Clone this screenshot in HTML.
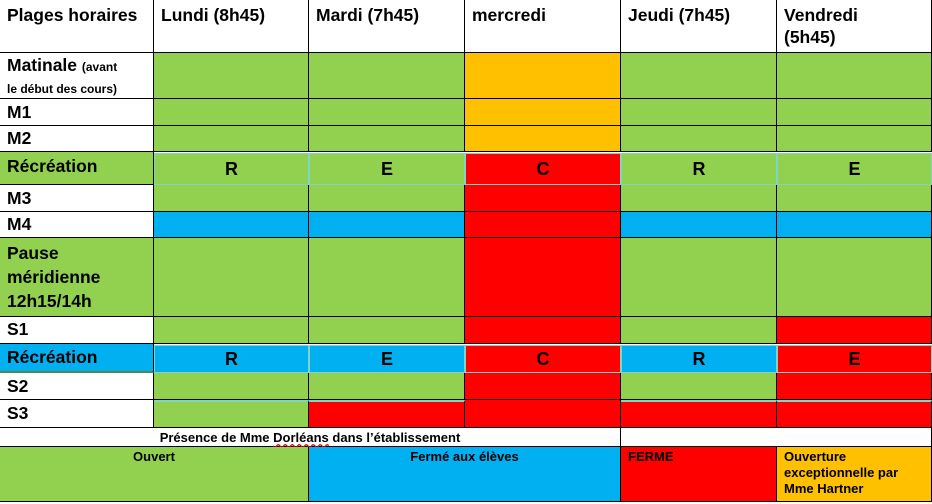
<!DOCTYPE html>
<html><head><meta charset="utf-8"><style>
body{margin:0;width:932px;height:504px;background:#fff;overflow:hidden;font-family:"Liberation Sans",sans-serif;}
.c{position:absolute;box-sizing:border-box;border-right:1px solid #000;border-bottom:1px solid #000;font-weight:bold;font-size:17.5px;color:#000;}
.h{padding:4px 0 0 7px;line-height:22px}
.f{padding:4px 0 0 7px;line-height:22px}
.m{display:flex;align-items:center;justify-content:center;font-size:18px;border:1px solid #7fd6c8;}
.G{background:#92D050}.B{background:#00B0F0}.R{background:#FF0000}.O{background:#FFC000}
.l{font-size:13px;text-align:center;padding-top:2px}
</style></head><body>
<!-- header -->
<div class="c h" style="left:0;top:0;width:154px;height:53px">Plages horaires</div>
<div class="c h" style="left:154px;top:0;width:155px;height:53px">Lundi (8h45)</div>
<div class="c h" style="left:309px;top:0;width:156px;height:53px">Mardi (7h45)</div>
<div class="c h" style="left:465px;top:0;width:156px;height:53px">mercredi</div>
<div class="c h" style="left:621px;top:0;width:156px;height:53px">Jeudi (7h45)</div>
<div class="c h" style="left:777px;top:0;width:155px;height:53px">Vendredi<br>(5h45)</div>
<!-- first column -->
<div class="c f" style="left:0;top:53px;width:154px;height:46px;padding-top:2px;line-height:20px">Matinale <span style="font-size:12px">(avant<br>le début des cours)</span></div>
<div class="c f" style="left:0;top:99px;width:154px;height:27px;padding-top:2px">M1</div>
<div class="c f" style="left:0;top:126px;width:154px;height:26px;padding-top:1px">M2</div>
<div class="c f G" style="left:0;top:152px;width:154px;height:33px;padding-top:3px">Récréation</div>
<div class="c f" style="left:0;top:185px;width:154px;height:27px;padding-top:2px">M3</div>
<div class="c f" style="left:0;top:212px;width:154px;height:26px;padding-top:1px">M4</div>
<div class="c f G" style="left:0;top:238px;width:154px;height:79px;padding-top:3px;line-height:24px">Pause<br>méridienne<br>12h15/14h</div>
<div class="c f" style="left:0;top:317px;width:154px;height:27px;padding-top:1px">S1</div>
<div class="c f B" style="left:0;top:344px;width:154px;height:29px;padding-top:2px;border-bottom:2px solid #4a8a50">Récréation</div>
<div class="c f" style="left:0;top:373px;width:154px;height:27px;padding-top:2px">S2</div>
<div class="c f" style="left:0;top:400px;width:154px;height:28px;padding-top:2px">S3</div>
<!-- Matinale -->
<div class="c G" style="left:154px;top:53px;width:155px;height:46px"></div>
<div class="c G" style="left:309px;top:53px;width:156px;height:46px"></div>
<div class="c O" style="left:465px;top:53px;width:156px;height:46px"></div>
<div class="c G" style="left:621px;top:53px;width:156px;height:46px"></div>
<div class="c G" style="left:777px;top:53px;width:155px;height:46px"></div>
<!-- M1 -->
<div class="c G" style="left:154px;top:99px;width:155px;height:27px"></div>
<div class="c G" style="left:309px;top:99px;width:156px;height:27px"></div>
<div class="c O" style="left:465px;top:99px;width:156px;height:27px"></div>
<div class="c G" style="left:621px;top:99px;width:156px;height:27px"></div>
<div class="c G" style="left:777px;top:99px;width:155px;height:27px"></div>
<!-- M2 -->
<div class="c G" style="left:154px;top:126px;width:155px;height:26px"></div>
<div class="c G" style="left:309px;top:126px;width:156px;height:26px"></div>
<div class="c O" style="left:465px;top:126px;width:156px;height:26px"></div>
<div class="c G" style="left:621px;top:126px;width:156px;height:26px"></div>
<div class="c G" style="left:777px;top:126px;width:155px;height:26px"></div>
<!-- Recreation 1 -->
<div class="c m G" style="left:154px;top:153px;width:155px;height:32px">R</div>
<div class="c m G" style="left:309px;top:153px;width:156px;height:32px">E</div>
<div class="c m R" style="left:465px;top:153px;width:156px;height:32px">C</div>
<div class="c m G" style="left:621px;top:153px;width:156px;height:32px">R</div>
<div class="c m G" style="left:777px;top:153px;width:155px;height:32px">E</div>
<!-- M3 -->
<div class="c G" style="left:154px;top:185px;width:155px;height:27px"></div>
<div class="c G" style="left:309px;top:185px;width:156px;height:27px"></div>
<div class="c R" style="left:465px;top:185px;width:156px;height:27px"></div>
<div class="c G" style="left:621px;top:185px;width:156px;height:27px"></div>
<div class="c G" style="left:777px;top:185px;width:155px;height:27px"></div>
<!-- M4 -->
<div class="c B" style="left:154px;top:212px;width:155px;height:26px"></div>
<div class="c B" style="left:309px;top:212px;width:156px;height:26px"></div>
<div class="c R" style="left:465px;top:212px;width:156px;height:26px"></div>
<div class="c B" style="left:621px;top:212px;width:156px;height:26px"></div>
<div class="c B" style="left:777px;top:212px;width:155px;height:26px"></div>
<!-- Pause -->
<div class="c G" style="left:154px;top:238px;width:155px;height:79px"></div>
<div class="c G" style="left:309px;top:238px;width:156px;height:79px"></div>
<div class="c R" style="left:465px;top:238px;width:156px;height:79px"></div>
<div class="c G" style="left:621px;top:238px;width:156px;height:79px"></div>
<div class="c G" style="left:777px;top:238px;width:155px;height:79px"></div>
<!-- S1 -->
<div class="c G" style="left:154px;top:317px;width:155px;height:27px"></div>
<div class="c G" style="left:309px;top:317px;width:156px;height:27px"></div>
<div class="c R" style="left:465px;top:317px;width:156px;height:27px"></div>
<div class="c G" style="left:621px;top:317px;width:156px;height:27px"></div>
<div class="c R" style="left:777px;top:317px;width:155px;height:27px"></div>
<!-- Recreation 2 -->
<div class="c m B" style="left:154px;top:345px;width:155px;height:28px">R</div>
<div class="c m B" style="left:309px;top:345px;width:156px;height:28px">E</div>
<div class="c m R" style="left:465px;top:345px;width:156px;height:28px">C</div>
<div class="c m B" style="left:621px;top:345px;width:156px;height:28px">R</div>
<div class="c m R" style="left:777px;top:345px;width:155px;height:28px">E</div>
<!-- S2 -->
<div class="c G" style="left:154px;top:373px;width:155px;height:27px"></div>
<div class="c G" style="left:309px;top:373px;width:156px;height:27px"></div>
<div class="c R" style="left:465px;top:373px;width:156px;height:27px"></div>
<div class="c G" style="left:621px;top:373px;width:156px;height:27px"></div>
<div class="c R" style="left:777px;top:373px;width:155px;height:27px"></div>
<!-- S3 -->
<div class="c G" style="left:154px;top:400px;width:155px;height:28px;border-top:2px solid #7fd6c8"></div>
<div class="c R" style="left:309px;top:400px;width:156px;height:28px;border-top:2px solid #7fd6c8"></div>
<div class="c R" style="left:465px;top:400px;width:156px;height:28px"></div>
<div class="c R" style="left:621px;top:400px;width:156px;height:28px;border-top:2px solid #7fd6c8"></div>
<div class="c R" style="left:777px;top:400px;width:155px;height:28px;border-top:2px solid #7fd6c8"></div>
<!-- presence -->
<div class="c" style="left:0;top:428px;width:621px;height:19px;font-size:13px;text-align:center;line-height:19px">Présence de Mme <span style="text-decoration:underline wavy #e00">Dorléans</span> dans l’établissement</div>
<div class="c" style="left:621px;top:428px;width:311px;height:19px"></div>
<!-- legend -->
<div class="c G l" style="left:0;top:447px;width:309px;height:55px">Ouvert</div>
<div class="c B l" style="left:309px;top:447px;width:312px;height:55px">Fermé aux élèves</div>
<div class="c R l" style="left:621px;top:447px;width:156px;height:55px;text-align:left;padding-left:7px">FERME</div>
<div class="c O l" style="left:777px;top:447px;width:155px;height:55px;text-align:left;padding-left:7px;padding-right:20px;line-height:16px">Ouverture exceptionnelle par Mme Hartner</div>
</body></html>
